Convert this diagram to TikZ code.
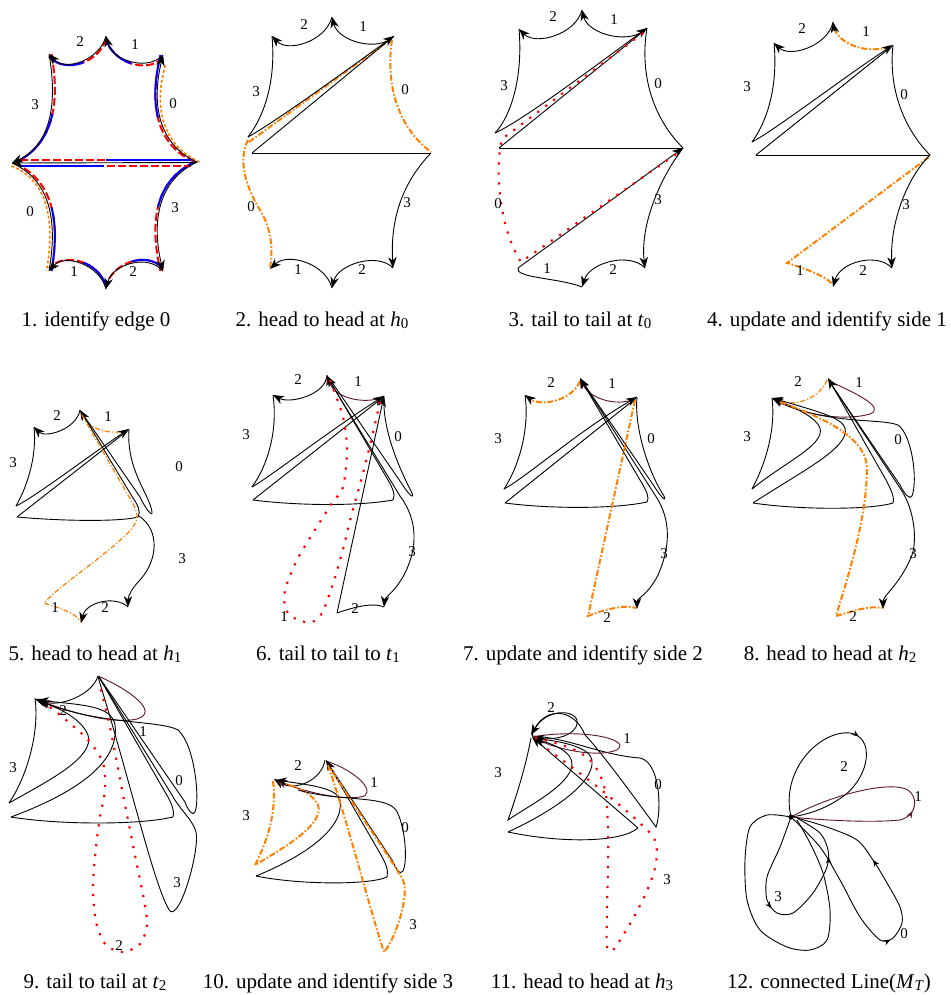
\documentclass[tikz,border=0pt]{standalone}
\usepackage{fontspec}
\setmainfont{Liberation Serif}
\usetikzlibrary{arrows.meta,decorations.markings}

\definecolor{dashorange}{RGB}{255,128,0}
\definecolor{sideone}{RGB}{90,20,45}

\newcommand{\lowsub}[1]{\raisebox{-0.3ex}{\fontsize{7.5}{8}\selectfont #1}}

\tikzset{
  thinline/.style={line width=0.45pt},
  arr/.style={thinline,-{Stealth[length=5.4pt,width=4.2pt,inset=1.6pt]}},
  orangedd/.style={draw=dashorange,line width=1pt,dash pattern=on 3pt off 1pt on 0.8pt off 1pt},
  orangethin/.style={draw=dashorange,line width=0.6pt,dash pattern=on 2.5pt off 1pt on 0.6pt off 1pt},
  orangedot/.style={draw=dashorange,line width=0.8pt,dash pattern=on 1.5pt off 1pt},
  reddots/.style={draw=red,line width=1.1pt,dash pattern=on 1.1pt off 3.9pt},
  redhalf/.style={draw=red,line width=1pt,dash pattern=on 4pt off 1.5pt},
  bluefirst/.style={draw=blue,line width=1pt,dash pattern=on #1 off 400pt},
  bluesecond/.style={draw=blue,line width=1pt,dash pattern=on 0pt off #1 on 400pt off 1pt},
  midarr/.style={postaction={decorate,decoration={markings,
      mark=at position #1 with {\arrow{Stealth[length=3.4pt,width=2.8pt]}}}}},
  lbl/.style={font=\fontsize{7.5}{9}\selectfont,inner sep=0pt},
  capline/.style={font=\fontsize{10.5}{12.6}\selectfont,anchor=base,inner sep=0pt},
}

\begin{document}
\begin{tikzpicture}[yscale=-1,x=0.5pt,y=0.5pt]
\useasboundingbox (0,0) rectangle (951,995);

% 1. identify edge 0
\draw[redhalf,shift={(0,2.5)}] (106,36) .. controls (100,60) and (65,72) .. (49,54);
\draw[bluesecond=17pt,shift={(0,2.5)}] (106,36) .. controls (100,60) and (65,72) .. (49,54);
\draw[redhalf,shift={(0,2.5)}] (163,55) .. controls (147,72) and (112,60) .. (106,36);
\draw[bluesecond=17pt,shift={(0,2.5)}] (163,55) .. controls (147,72) and (112,60) .. (106,36);
\draw[redhalf,shift={(-2.5,0)}] (197,162) .. controls (159,145) and (151,105) .. (163,55);
\draw[bluesecond=30pt,shift={(-2.5,0)}] (197,162) .. controls (159,145) and (151,105) .. (163,55);
\draw[orangedot,shift={(2.5,0)}] (197,162) .. controls (159,145) and (151,105) .. (163,65);
\draw[redhalf,shift={(2.5,0)}] (49,54) .. controls (58,105) and (50,145) .. (12,163);
\draw[bluesecond=30pt,shift={(2.5,0)}] (49,54) .. controls (58,105) and (50,145) .. (12,163);
\draw[redhalf,shift={(2.5,0)}] (12,163) .. controls (50,180) and (58,220) .. (49,271);
\draw[bluesecond=30pt,shift={(2.5,0)}] (12,163) .. controls (50,180) and (58,220) .. (49,271);
\draw[orangedot,shift={(-2.5,0)}] (14,166) .. controls (50,180) and (58,220) .. (49,271);
\draw[redhalf,shift={(0,-2.5)}] (106,289) .. controls (100,265) and (65,253) .. (49,271);
\draw[bluefirst=17pt,shift={(0,-2.5)}] (106,289) .. controls (100,265) and (65,253) .. (49,271);
\draw[redhalf,shift={(0,-2.5)}] (163,271) .. controls (147,253) and (112,265) .. (106,289);
\draw[bluefirst=17pt,shift={(0,-2.5)}] (163,271) .. controls (147,253) and (112,265) .. (106,289);
\draw[redhalf,shift={(-2.5,0)}] (197,162) .. controls (159,180) and (151,220) .. (163,271);
\draw[bluefirst=30pt,shift={(-2.5,0)}] (197,162) .. controls (159,180) and (151,220) .. (163,271);
\draw[redhalf] (20,159.5) -- (106,159.5);
\draw[draw=blue,line width=1pt] (106,159.5) -- (191,159.5);
\draw[draw=blue,line width=1pt] (20,166) -- (104,166);
\draw[redhalf] (107,166) -- (191,166);
\draw[arr] (106,36) .. controls (100,60) and (65,72) .. (49,54);
\draw[arr] (163,55) .. controls (147,72) and (112,60) .. (106,36);
\draw[arr] (197,162) .. controls (159,145) and (151,105) .. (163,55);
\draw[arr] (49,54) .. controls (58,105) and (50,145) .. (12,163);
\draw[thinline] (12,163) .. controls (50,180) and (58,220) .. (49,271);
\draw[arr] (106,289) .. controls (100,265) and (65,253) .. (49,271);
\draw[arr] (163,271) .. controls (147,253) and (112,265) .. (106,289);
\draw[arr] (197,162) .. controls (159,180) and (151,220) .. (163,271);
\draw[arr] (197,162.5) -- (12,163);
\path (80,42) node[lbl] (a2) {2} (135,45) node[lbl] (a1) {1}
  (35,105) node[lbl] (a3) {3} (173,104) node[lbl] (a0) {0}
  (30,212) node[lbl] (a0b) {0} (175,208) node[lbl] (a3b) {3}
  (74,272) node[lbl] (a1b) {1} (133,272) node[lbl] (a2b) {2};
\node[capline] (c1) at (96,326) {1. identify edge 0};

% 2. head to head at h0
\draw[arr] (332,17) .. controls (326,41) and (288,53) .. (272,36);
\draw[arr] (394,36) .. controls (378,53) and (338,41) .. (332,17);
\draw[thinline] (272,36) .. controls (276,80) and (265,115) .. (248,137);
\draw[orangedd] (249,142) -- (391,39);
\draw[arr] (248,137) .. controls (275,122) and (340,75) .. (394,36);
\draw[thinline] (252,153) -- (393,37);
\draw[thinline] (252,153) -- (431,153);
\draw[orangedd] (392,40) .. controls (386,80) and (395,125) .. (431,152);
\draw[orangedd] (248,140) .. controls (238,160) and (245,185) .. (260,210)
  .. controls (272,230) and (273,250) .. (270,268);
\draw[arr] (431,153) .. controls (405,180) and (390,215) .. (393,268);
\draw[arr] (393,268) .. controls (378,252) and (338,264) .. (332,288);
\draw[arr] (332,288) .. controls (326,264) and (288,252) .. (270,269);
\path (304,25) node[lbl] (b2) {2} (363,27) node[lbl] (b1) {1}
  (256,92) node[lbl] (b3) {3} (405,90) node[lbl] (b0) {0}
  (251,207) node[lbl] (b0b) {0} (407,203) node[lbl] (b3b) {3}
  (298,270) node[lbl] (b1b) {1} (362,270) node[lbl] (b2b) {2};
\node[capline] (c2) at (322,326) {2. head to head at \textit{h}\lowsub{0}};

% 3. tail to tail at t0
\draw[arr] (582,10) .. controls (576,34) and (536,46) .. (519,29);
\draw[arr] (647,28) .. controls (630,46) and (588,34) .. (582,10);
\draw[thinline] (519,29) .. controls (523,75) and (512,115) .. (495,133);
\draw[arr] (495,133) .. controls (520,122) and (590,70) .. (647,28);
\draw[thinline] (499,148) -- (645,30);
\draw[thinline] (647,28) .. controls (640,70) and (650,115) .. (683,148);
\draw[thinline] (499,148) -- (683,148);
\draw[arr] (518,268) -- (683,148);
\draw[thinline] (518,268) .. controls (514,278) and (560,278) .. (582,287);
\draw[arr] (683,148) .. controls (660,178) and (640,225) .. (645,268);
\draw[arr] (645,268) .. controls (630,252) and (590,262) .. (582,287);
\draw[reddots] (643,33) -- (502,139) .. controls (494,170) and (500,230) .. (521,262) -- (679,152);
\path (553,17) node[lbl] (d2) {2} (614,20) node[lbl] (d1) {1}
  (504,86) node[lbl] (d3) {3} (658,84) node[lbl] (d0) {0}
  (498,204) node[lbl] (d0b) {0} (658,200) node[lbl] (d3b) {3}
  (547,269) node[lbl] (d1b) {1} (613,270) node[lbl] (d2b) {2};
\node[capline] (c3) at (580,326) {3. tail to tail at \textit{t}\lowsub{0}};

% 4. update and identify side 1
\draw[arr] (833,22) .. controls (828,46) and (790,58) .. (774,43);
\draw[orangedd] (890,46) .. controls (870,55) and (838,45) .. (834,27);
\draw[arr] (834.5,31) -- (833,22);
\draw[thinline] (774,43) .. controls (778,85) and (768,120) .. (752,142);
\draw[arr] (752,142) .. controls (775,130) and (840,80) .. (893,45);
\draw[thinline] (756,155) -- (891,47);
\draw[thinline] (893,45) .. controls (888,90) and (905,130) .. (930,155);
\draw[thinline] (756,155) -- (930,155);
\draw[orangedd] (929,157) -- (787,263) .. controls (800,267) and (825,275) .. (832,284);
\draw[arr] (930,155) .. controls (905,180) and (890,225) .. (892,268);
\draw[arr] (892,268) .. controls (877,252) and (840,262) .. (833,287);
\path (802,29) node[lbl] (e2) {2} (866,32) node[lbl] (e1) {1}
  (747,87) node[lbl] (e3) {3} (904,95) node[lbl] (e0) {0}
  (906,205) node[lbl] (e3b) {3} (800,271) node[lbl] (e1b) {1}
  (863,271) node[lbl] (e2b) {2};
\node[capline] (c4) at (827,326) {4. update and identify side 1};

% 5. head to head at h1
\draw[arr] (80,410) .. controls (76,430) and (45,438) .. (34,427);
\draw[orangethin] (82,413) .. controls (88,432) and (115,435) .. (128,430);
\draw[thinline] (34,427) .. controls (37,455) and (28,485) .. (16,506);
\draw[arr] (16,506) .. controls (35,497) and (90,455) .. (129,429);
\draw[thinline] (17,517) -- (127,431);
\draw[thinline] (17,517) .. controls (60,521) and (120,522) .. (138,517);
\draw[arr] (138,517) .. controls (141,512) and (138,505) .. (133,498) -- (80,410);
\draw[thinline] (129,429) .. controls (126,470) and (150,495) .. (152,512)
  .. controls (153,518) and (145,508) .. (140,497) -- (82,413);
\draw[orangethin] (82,415) -- (132,502) .. controls (140,516) and (138,522) .. (128,533)
  .. controls (100,560) and (60,585) .. (44,603) .. controls (58,608) and (75,612) .. (81,622);
\draw[arr] (139,516) .. controls (160,530) and (158,560) .. (140,580)
  .. controls (130,590) and (128,598) .. (128,607);
\draw[arr] (128,607) .. controls (115,595) and (86,602) .. (81,623);
\path (57,416) node[lbl] (f2) {2} (108,417) node[lbl] (f1) {1}
  (13,463) node[lbl] (f3) {3} (179,467) node[lbl] (f0) {0}
  (182,559) node[lbl] (f3b) {3} (55,608) node[lbl] (f1b) {1}
  (105,608) node[lbl] (f2b) {2};
\node[capline] (c5) at (95,660) {5. head to head at \textit{h}\lowsub{1}};

% 6. tail to tail to t1
\draw[arr] (327,375) .. controls (326,395) and (290,404) .. (273,395);
\draw[arr,draw=sideone] (384,396) .. controls (370,405) and (335,400) .. (327,375);
\draw[thinline] (273,395) .. controls (278,430) and (268,465) .. (252,487);
\draw[arr] (252,487) .. controls (270,477) and (330,430) .. (384,396);
\draw[thinline] (253,500) -- (382,398);
\draw[thinline] (253,500) .. controls (300,506) and (360,506) .. (393,500);
\draw[arr] (393,500) .. controls (396,495) and (392,487) .. (388,480) -- (327,376);
\draw[thinline] (384,396) .. controls (382,430) and (400,470) .. (412,493)
  .. controls (415,500) and (408,494) .. (402,484) -- (329,378);
\draw[arr] (329,380) -- (400,496) .. controls (418,520) and (418,548) .. (404,575)
  .. controls (394,593) and (385,597) .. (384,607);
\draw[arr] (337,613) -- (384,396);
\draw[thinline] (337,613) .. controls (360,605) and (375,603) .. (384,607);
\draw[reddots] plot[smooth] coordinates {(330,380) (343,417) (347,450) (343,487)
  (332,503) (313,533) (297,560) (285,590) (286,610) (298,620) (312,622) (322,613)
  (332,587) (342,553) (352,513) (362,477) (372,437) (380,402)};
\path (298,380) node[lbl] (g2) {2} (358,382) node[lbl] (g1) {1}
  (246,435) node[lbl] (g3) {3} (398,437) node[lbl] (g0) {0}
  (412,552) node[lbl] (g3b) {3} (284,617) node[lbl] (g1b) {1}
  (355,609) node[lbl] (g2b) {2};
\node[capline] (c6) at (328,660) {6. tail to tail to \textit{t}\lowsub{1}};

% 7. update and identify side 2
\draw[orangedd] (580,381) .. controls (574,398) and (545,408) .. (529,399);
\draw[arr] (531,399.5) -- (525,395);
\draw[arr,draw=sideone] (637,397) .. controls (622,408) and (590,400) .. (580,378);
\draw[thinline] (525,395) .. controls (530,430) and (518,468) .. (504,489);
\draw[arr] (504,489) .. controls (525,478) and (580,430) .. (637,397);
\draw[thinline] (505,503) -- (635,399);
\draw[thinline] (505,503) .. controls (550,509) and (615,509) .. (647,502);
\draw[arr] (647,502) .. controls (650,497) and (645,488) .. (640,480) -- (580,378);
\draw[thinline] (637,397) .. controls (634,430) and (650,475) .. (664,496)
  .. controls (667,503) and (660,496) .. (654,486) -- (582,381);
\draw[arr] (582,381) -- (655,495) .. controls (672,520) and (670,548) .. (658,575)
  .. controls (648,595) and (637,598) .. (637,609);
\draw[orangedd] (635,400) -- (588,616) .. controls (603,610) and (625,604) .. (636,608);
\path (551,383) node[lbl] (h2) {2} (612,384) node[lbl] (h1) {1}
  (498,439) node[lbl] (h3) {3} (651,439) node[lbl] (h0) {0}
  (664,554) node[lbl] (h3b) {3} (607,618) node[lbl] (h2b) {2};
\node[capline] (c7) at (583,660) {7. update and identify side 2};

% 8. head to head at h2
\draw[orangethin] (827,380) .. controls (820,398) and (795,408) .. (778,400);
\draw[arr,draw=sideone] (829,381) .. controls (860,395) and (885,408) .. (870,414)
  .. controls (850,420) and (810,418) .. (772,398);
\draw[thinline] (772,398) .. controls (776,430) and (765,465) .. (752,489);
\draw[arr] (752,489) .. controls (785,462) and (825,445) .. (820,428)
  .. controls (816,418) and (800,410) .. (772,398);
\draw[arr] (753,503) .. controls (800,472) and (850,448) .. (845,428)
  .. controls (842,418) and (820,412) .. (772,398);
\draw[thinline] (753,503) .. controls (800,510) and (870,510) .. (893,503);
\draw[arr] (893,503) .. controls (895,497) and (890,488) .. (886,480) -- (828,378);
\draw[thinline] (778,402) .. controls (830,425) and (880,418) .. (898,425)
  .. controls (912,435) and (918,480) .. (912,496) .. controls (910,500) and (905,495) .. (900,485) -- (829,381);
\draw[arr] (829,381) -- (900,488) .. controls (915,510) and (917,540) .. (912,555)
  .. controls (900,585) and (883,595) .. (883,609);
\draw[orangedd] (780,402) .. controls (830,420) and (868,440) .. (867,470)
  .. controls (866,520) and (850,570) .. (836,616) .. controls (850,612) and (870,605) .. (882,608);
\path (798,382) node[lbl] (k2) {2} (859,383) node[lbl] (k1) {1}
  (747,437) node[lbl] (k3) {3} (898,440) node[lbl] (k0) {0}
  (913,554) node[lbl] (k3b) {3} (853,617) node[lbl] (k2b) {2};
\node[capline] (c8) at (830,660) {8. head to head at \textit{h}\lowsub{2}};

% 9. tail to tail at t2
\draw[arr] (98,676) .. controls (92,695) and (60,708) .. (35,699);
\draw[arr,draw=sideone] (98,676) .. controls (130,690) and (160,712) .. (137,719)
  .. controls (115,724) and (80,715) .. (40,701);
\draw[thinline] (35,698) .. controls (40,735) and (25,780) .. (9,803);
\draw[arr] (9,803) .. controls (50,780) and (95,757) .. (88,735)
  .. controls (83,722) and (65,710) .. (38,701);
\draw[arr] (11,817) .. controls (70,795) and (120,765) .. (115,725)
  .. controls (112,705) and (80,705) .. (38,700);
\draw[thinline] (45,703) .. controls (100,725) and (160,720) .. (178,730)
  .. controls (195,745) and (200,800) .. (195,812) .. controls (193,817) and (188,810) .. (185,802) -- (99,677);
\draw[thinline] (11,817) .. controls (60,825) and (140,825) .. (173,817);
\draw[thinline] (173,817) .. controls (175,810) and (170,800) .. (165,792) -- (99,677);
\draw[thinline] (98,677) .. controls (130,780) and (155,890) .. (170,911)
  .. controls (180,920) and (200,850) .. (196,832) .. controls (193,820) and (180,810) .. (172,795) -- (99,677);
\draw[reddots] plot[smooth] coordinates {(50,707) (72,725) (90,742) (103,763) (105,790)
  (100,817) (96,847) (93,887) (96,922) (106,945) (123,952) (140,944) (147,925)
  (144,900) (138,870) (131,835) (124,800) (117,763) (110,727) (103,698) (99,684)};
\path (63,711) node[lbl] (m2) {2} (143,732) node[lbl] (m1) {1}
  (13,768) node[lbl] (m3) {3} (179,781) node[lbl] (m0) {0}
  (177,883) node[lbl] (m3b) {3} (119,946) node[lbl] (m2b) {2};
\node[capline] (c9) at (95,988) {9. tail to tail at \textit{t}\lowsub{2}};

% 10. update and identify side 3
\draw[arr] (325,760) .. controls (322,780) and (295,792) .. (274,779);
\draw[arr,draw=sideone] (326,761) .. controls (360,772) and (378,795) .. (360,797)
  .. controls (340,800) and (305,792) .. (276,780);
\draw[orangedd] (273,781) .. controls (277,810) and (268,840) .. (255,865)
  .. controls (280,850) and (325,825) .. (318,805) .. controls (312,792) and (295,787) .. (280,782);
\draw[arr] (256,876) .. controls (300,858) and (345,830) .. (340,800)
  .. controls (337,788) and (310,785) .. (276,780);
\draw[thinline] (298,790) .. controls (340,802) and (385,795) .. (396,810)
  .. controls (405,825) and (408,860) .. (403,871) .. controls (400,876) and (396,868) .. (392,860) -- (327,762);
\draw[thinline] (256,876) .. controls (300,885) and (370,885) .. (387,877);
\draw[arr] (387,877) .. controls (389,870) and (385,862) .. (381,855) -- (326,760);
\draw[orangedd] (328,765) .. controls (350,830) and (370,910) .. (384,952)
  .. controls (395,940) and (410,895) .. (403,880) .. controls (395,865) and (360,815) .. (330,768);
\path (298,766) node[lbl] (n2) {2} (374,783) node[lbl] (n1) {1}
  (246,816) node[lbl] (n3) {3} (405,828) node[lbl] (n0) {0}
  (413,925) node[lbl] (n3b) {3};
\node[capline] (c10) at (328,988) {10. update and identify side 3};

% 11. head to head at h3
\draw[arr] (532,736) .. controls (540,705) and (585,708) .. (576,727)
  .. controls (570,738) and (550,740) .. (533,737);
\draw[arr] (532,736) .. controls (570,738) and (600,755) .. (640,758)
  .. controls (660,762) and (662,810) .. (656,827) .. controls (640,805) and (600,750) .. (585,735)
  .. controls (575,710) and (548,705) .. (531,735);
\draw[arr,draw=sideone] (532,737) .. controls (570,730) and (615,735) .. (620,745)
  .. controls (622,755) and (580,758) .. (533,738);
\draw[arr] (531,738) .. controls (525,770) and (515,800) .. (508,820)
  .. controls (530,805) and (570,785) .. (572,765) .. controls (573,752) and (555,745) .. (533,738);
\draw[arr] (508,832) .. controls (545,815) and (595,785) .. (592,760)
  .. controls (590,748) and (565,742) .. (533,738);
\draw[thinline] (508,832) .. controls (560,843) and (620,843) .. (638,828);
\draw[arr] (638,828) -- (532,737);
\draw[reddots] plot[smooth] coordinates {(535,738) (552,742) (575,750) (590,760) (600,775)
  (606,795) (608,830) (608,870) (607,910) (607,947) (613,950) (622,937) (635,915)
  (646,893) (654,872) (657,853) (654,838) (643,826) (630,814) (610,797) (590,781)
  (565,762) (542,745)};
\path (551,708) node[lbl] (q2) {2} (627,739) node[lbl] (q1) {1}
  (498,773) node[lbl] (q3) {3} (658,785) node[lbl] (q0) {0}
  (667,880) node[lbl] (q3b) {3};
\node[capline] (c11) at (582,988) {11. head to head at \textit{h}\lowsub{3}};

% 12. connected Line(M_T)
\draw[thinline,midarr=0.5] (791,817) .. controls (780,770) and (820,730) .. (850,733)
  .. controls (875,737) and (870,775) .. (845,795) .. controls (825,810) and (805,815) .. (791,817);
\draw[thinline,draw=sideone,midarr=0.46] (791,817) .. controls (820,820) and (870,823) .. (900,820)
  .. controls (918,815) and (918,797) .. (908,790) .. controls (890,780) and (830,795) .. (791,817);
\draw[thinline,midarr=0.475,midarr=0.74] plot[smooth] coordinates {(791,817) (820,847) (840,880)
  (860,917) (880,940) (893,938) (902,923) (900,907) (887,883) (873,860) (857,840) (827,827) (797,818)};
\draw[thinline,midarr=0.4,midarr=0.78] plot[smooth] coordinates {(791,817) (780,847) (767,877)
  (767,900) (777,913) (793,913) (813,893) (827,867) (828,850) (820,833) (797,818)};
\draw[thinline] plot[smooth] coordinates {(791,817) (767,815) (750,827) (745,860) (747,900)
  (760,930) (787,947) (810,950) (827,940) (830,910) (823,873) (810,843) (797,820)};
\fill (791,817) circle[radius=2.6];
\path (844,767) node[lbl] (r2) {2} (918,797) node[lbl] (r1) {1}
  (778,897) node[lbl] (r3) {3} (904,934) node[lbl] (r0) {0};
\node[capline] (c12) at (829,988) {12. connected Line(\textit{M}\lowsub{\textit{T}})};
\end{tikzpicture}
\end{document}
